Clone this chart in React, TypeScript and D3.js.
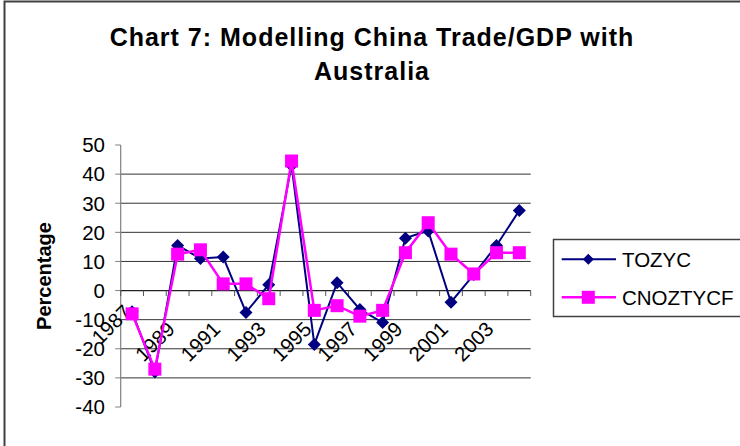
import React from "react";
import * as d3 from "d3";

const years = [1987, 1988, 1989, 1990, 1991, 1992, 1993, 1994, 1995, 1996, 1997, 1998, 1999, 2000, 2001, 2002, 2003, 2004];
const tozyc = [-7.3, -28, 15.5, 11, 11.5, -7.5, 2, 43, -18.5, 2.7, -6.5, -11, 18, 20.5, -4, 5.5, 15.5, 27.5];
const cnoztycf = [-8, -27, 12.5, 14, 2.3, 2.3, -2.8, 44.5, -6.8, -5.2, -8.8, -6.8, 13, 23.3, 12.5, 5.7, 13, 13];
const yTicks = [-40, -30, -20, -10, 0, 10, 20, 30, 40, 50];
const labelYears = [1987, 1989, 1991, 1993, 1995, 1997, 1999, 2001, 2003];
const seriesNames = ["TOZYC", "CNOZTYCF"];
const titleLines = ["Chart 7: Modelling China Trade/GDP with", "Australia"];

const FONT = "'Liberation Sans', Arial, sans-serif";
const NAVY = "#000080";
const PINK = "#FF00FF";

const diamond = (r: number) => `M0,${-r}L${r},0L0,${r}L${-r},0Z`;

export default function App() {
  const left = 120.7;
  const right = 530.7;
  const x = d3.scaleBand<string>().domain(years.map(String)).range([left, right]).padding(0);
  const cx = (yr: number) => (x(String(yr)) as number) + x.bandwidth() / 2;
  const y = d3.scaleLinear().domain([-40, 50]).range([407, 145]);

  const line = d3
    .line<number>()
    .x((_, i) => cx(years[i]))
    .y((v) => y(v));

  const boundaries = d3.range(years.length + 1).map((i) => left + i * x.bandwidth());

  return (
    <svg
      width={740}
      height={446}
      style={{ position: "absolute", left: 0, top: 0, background: "#fff" }}
      fontFamily={FONT}
    >
      <rect x={0} y={0} width={740} height={446} fill="#fff" />
      {/* outer chart border */}
      <rect x={4.5} y={1.5} width={900} height={600} fill="none" stroke="#404040" strokeWidth={2} />

      {/* title */}
      {titleLines.map((t, i) => (
        <text
          key={t}
          x={372}
          y={46 + i * 33.5}
          textAnchor="middle"
          fontSize={25}
          fontWeight="bold"
          letterSpacing={1}
          fill="#000"
        >
          {t}
        </text>
      ))}

      {/* gridlines */}
      {yTicks
        .filter((t) => t !== 0 && t !== 50 && t !== -40)
        .map((t) => (
          <line key={t} x1={left} x2={right} y1={y(t)} y2={y(t)} stroke="#333" strokeWidth={1} />
        ))}

      {/* y axis */}
      <line x1={left} x2={left} y1={y(50)} y2={y(-40)} stroke="#808080" strokeWidth={1.2} />
      {yTicks.map((t) => (
        <g key={t}>
          <line x1={left - 5.5} x2={left} y1={y(t)} y2={y(t)} stroke="#808080" strokeWidth={1} />
          <text x={105} y={y(t)} dy="0.36em" textAnchor="end" fontSize={20.5} fill="#000">
            {t}
          </text>
        </g>
      ))}

      {/* x axis at zero */}
      <line x1={left} x2={right} y1={y(0)} y2={y(0)} stroke="#222" strokeWidth={1.2} />
      {boundaries.map((b, i) => (
        <line key={i} x1={b} x2={b} y1={y(0)} y2={y(0) + 5.5} stroke="#555" strokeWidth={1} />
      ))}
      {labelYears.map((yr, i) => {
        const ax = cx(yr) - 1.6 + (i === 0 ? 2 : 0);
        const ay = 330.4 - (i === 0 ? 17 : 0);
        return (
          <text
            key={yr}
            transform={`translate(${ax},${ay}) rotate(-45)`}
            textAnchor="end"
            fontSize={20.5}
            fill="#000"
          >
            {yr}
          </text>
        );
      })}

      {/* y axis title */}
      <text
        transform={`translate(51,${(y(50) + y(-40)) / 2}) rotate(-90)`}
        textAnchor="middle"
        fontSize={20}
        fontWeight="bold"
        fill="#000"
      >
        Percentage
      </text>

      {/* series 1 */}
      <path d={line(tozyc) || ""} fill="none" stroke={NAVY} strokeWidth={2} />
      {tozyc.map((v, i) => (
        <path key={i} d={diamond(6.5)} transform={`translate(${cx(years[i])},${y(v)})`} fill={NAVY} />
      ))}

      {/* series 2 */}
      <path d={line(cnoztycf) || ""} fill="none" stroke={PINK} strokeWidth={2.5} />
      {cnoztycf.map((v, i) => (
        <rect key={i} x={cx(years[i]) - 6.5} y={y(v) - 6.5} width={13} height={13} fill={PINK} />
      ))}

      {/* legend */}
      <rect x={553.5} y={239.5} width={300} height={77} fill="#fff" stroke="#404040" strokeWidth={1.5} />
      {seriesNames.map((name, i) => {
        const ly = 259.3 + i * 38;
        const color = i === 0 ? NAVY : PINK;
        return (
          <g key={name}>
            <line x1={561.7} x2={616} y1={ly} y2={ly} stroke={color} strokeWidth={i === 0 ? 2 : 2.5} />
            {i === 0 ? (
              <path d={diamond(5.5)} transform={`translate(588.3,${ly})`} fill={NAVY} />
            ) : (
              <rect x={588.3 - 6.5} y={ly - 6.5} width={13} height={13} fill={PINK} />
            )}
            <text x={622} y={ly + 7.3} fontSize={20.5} fill="#000">
              {name}
            </text>
          </g>
        );
      })}
    </svg>
  );
}
